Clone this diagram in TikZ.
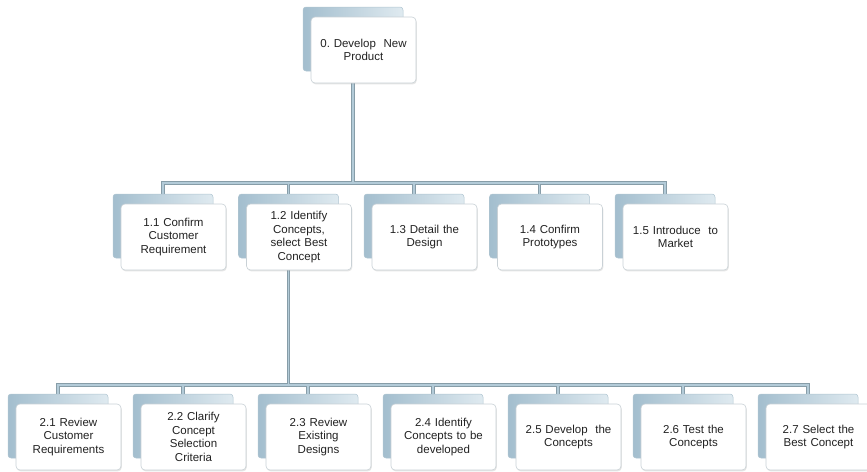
\documentclass[tikz,border=0pt]{standalone}
\usepackage{fontspec}
\setmainfont{Liberation Sans}
\usetikzlibrary{shadows,backgrounds}
\definecolor{bkL}{HTML}{A3BECE}
\definecolor{bkM}{HTML}{D0E1EA}
\definecolor{bkR}{HTML}{DFEAF0}
\definecolor{bkE}{HTML}{B0C5D1}
\definecolor{frE}{HTML}{C9D1D6}
\definecolor{cnO}{HTML}{879DA8}
\definecolor{cnI}{HTML}{B3CBD8}
\definecolor{txt}{HTML}{222222}
\newcommand\wbs[4]{%
  \node[backbox] (b#1) at (#2,#3+32) {};
  \node[frontbox] (f#1) at (#2+10.5,#3+43) {#4};}
\begin{document}
\begin{tikzpicture}[x=1pt,y=-1pt,
  backbox/.style={rectangle, rounded corners=3pt, minimum width=100pt, minimum height=64pt,
    left color=bkL, middle color=bkM, right color=bkR, draw=bkE, line width=0.5pt, inner sep=0pt},
  frontbox/.style={rectangle, rounded corners=4pt, minimum width=105pt, minimum height=66pt,
    fill=white, draw=frE, line width=0.6pt,
    drop shadow={opacity=0.2, shadow xshift=0.8pt, shadow yshift=-1.4pt},
    align=center, font=\fontsize{11.5}{13.5}\selectfont, text=txt, inner sep=2pt, text width=98pt},
  connout/.style={draw=cnO, line width=3.8pt},
  connin/.style={draw=cnI, line width=1.8pt}]
\useasboundingbox (0,0) rectangle (867,471);
\clip (0,0) rectangle (867,471);
\coordinate (bar1) at (0,183);
\coordinate (bar2) at (0,385);

\wbs{0}{353}{7}{0.\ Develop\ \ New\\Product}

\wbs{11}{163}{194}{1.1 Confirm\\Customer\\Requirement}
\wbs{12}{288.5}{194}{1.2 Identify\\Concepts,\\select Best\\Concept}
\wbs{13}{414}{194}{1.3 Detail the\\Design}
\wbs{14}{539.5}{194}{1.4 Confirm\\Prototypes}
\wbs{15}{665}{194}{1.5 Introduce\ \ to\\Market}

\wbs{21}{58}{394}{2.1 Review\\Customer\\Requirements}
\wbs{22}{183}{394}{2.2 Clarify\\Concept\\Selection\\Criteria}
\wbs{23}{308}{394}{2.3 Review\\Existing\\Designs}
\wbs{24}{433}{394}{2.4 Identify\\Concepts to be\\developed}
\wbs{25}{558}{394}{2.5 Develop\ \ the\\Concepts}
\wbs{26}{683}{394}{2.6 Test the\\Concepts}
\wbs{27}{808}{394}{2.7 Select the\\Best Concept}

\begin{pgfonlayer}{background}
\foreach \st in {connout,connin}{
  \draw[\st] (b0.south) -- (b0.south |- bar1);
  \draw[\st] (b11.north) -- (b11.north |- bar1) -- (b15.north |- bar1) -- (b15.north);
  \foreach \i in {12,13,14}{\draw[\st] (b\i.north) -- (b\i.north |- bar1);}
  \draw[\st] (b12.south) -- (b12.south |- bar2);
  \draw[\st] (b21.north) -- (b21.north |- bar2) -- (b27.north |- bar2) -- (b27.north);
  \foreach \i in {22,23,24,25,26}{\draw[\st] (b\i.north) -- (b\i.north |- bar2);}
}
\end{pgfonlayer}
\end{tikzpicture}
\end{document}
